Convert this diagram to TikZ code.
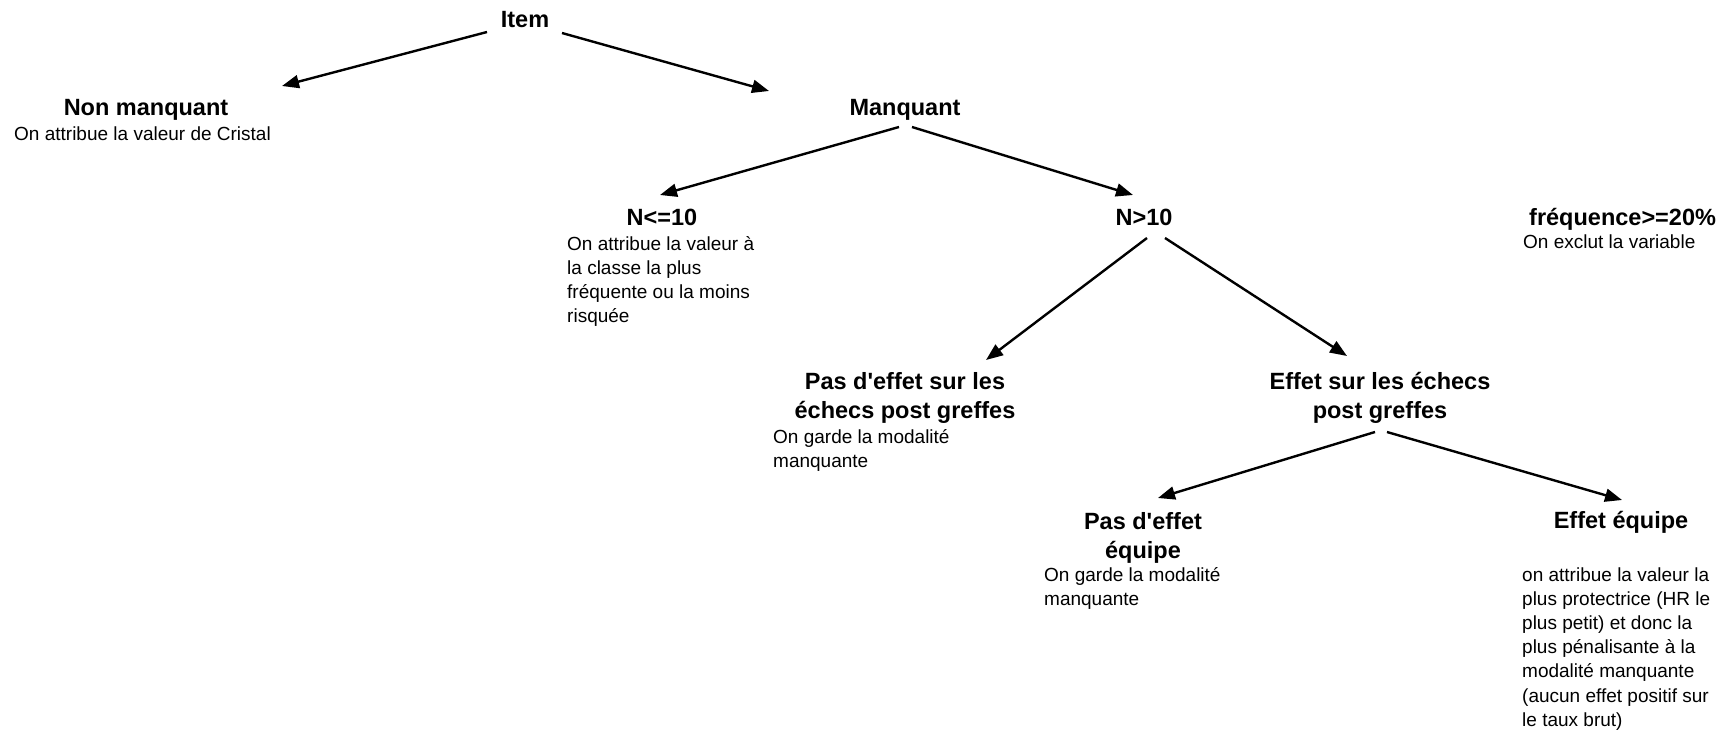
\documentclass[tikz,border=0pt]{standalone}
\usepackage{fontspec}
\setmainfont{Liberation Sans}[Ligatures=TeXOff]
\usetikzlibrary{arrows.meta}

\begin{document}
\begin{tikzpicture}[x=1pt, y=-1pt, >={Triangle[length=17pt,width=13pt]}, line width=2.4pt,
        title/.style={inner sep=0pt, anchor=base, align=center, font=\fontsize{23.5}{29.5}\selectfont\bfseries},
        note/.style={inner sep=0pt, anchor=base west, align=left, font=\fontsize{19}{24.2}\selectfont}]
    \useasboundingbox (0,0) rectangle (1717,730);

    % Nodes (base = last line)
    \node[title] at (525,28) (item) {Item};
    \node[title] at (146,116) (nonman) {Non manquant};
    \node[note] at (13,141) (nonmantxt) {On attribue la valeur de Cristal};
    \node[title] at (905,116) (man) {Manquant};
    \node[title] at (662,226) (nle) {N<=10};
    \node[note] at (566,322.6) (nletxt) {On attribue la valeur à\\la classe la plus\\fréquente ou la moins\\risquée};
    \node[title] at (1144,226) (ngt) {N>10};
    \node[title, anchor=base west] at (1528,226) (freq) {fréquence>=20\%};
    \node[note] at (1522,249) (freqtxt) {On exclut la variable};
    \node[title] at (905,418.5) (pasech) {Pas d'effet sur les\\échecs post greffes};
    \node[note] at (772,467.2) (pasechtxt) {On garde la modalité\\manquante};
    \node[title] at (1380,418.5) (effech) {Effet sur les échecs\\post greffes};
    \node[title] at (1143,558.5) (paseq) {Pas d'effet\\équipe};
    \node[note] at (1043,605.2) (paseqtxt) {On garde la modalité\\manquante};
    \node[title] at (1621,528) (effeq) {Effet équipe};
    \node[note] at (1521,726.2) (effeqtxt) {on attribue la valeur la\\plus protectrice (HR le\\plus petit) et donc la\\plus pénalisante à la\\modalité manquante\\(aucun effet positif sur\\le taux brut)};

    % Edges
    \draw[->] ([shift={(-38,4)}]item.base) -- ([shift={(136,-30)}]nonman.base);
    \draw[->] ([shift={(37,5)}]item.base) -- ([shift={(-136,-25)}]man.base);
    \draw[->] ([shift={(-6,11)}]man.base) -- ([shift={(-2,-31)}]nle.base);
    \draw[->] ([shift={(7,11)}]man.base) -- ([shift={(-11,-31)}]ngt.base);
    \draw[->] ([shift={(3,12)}]ngt.base) -- ([shift={(81,-58.5)}]pasech.base);
    \draw[->] ([shift={(21,12)}]ngt.base) -- ([shift={(-33,-62.5)}]effech.base);
    \draw[->] ([shift={(-5,13.5)}]effech.base) -- ([shift={(15,-60.5)}]paseq.base);
    \draw[->] ([shift={(7,13.5)}]effech.base) -- ([shift={(1,-28)}]effeq.base);
\end{tikzpicture}
\end{document}
